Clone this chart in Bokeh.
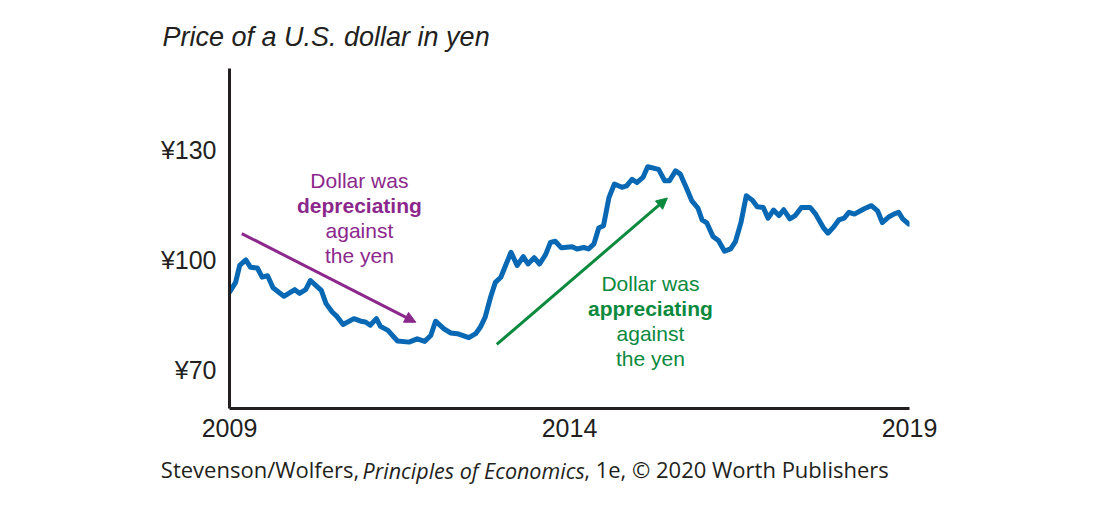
from bokeh.plotting import figure
from bokeh.models import Range1d, FixedTicker, Label, Arrow, NormalHead, Title, LinearAxis
from bokeh.embed import file_html
from bokeh.resources import INLINE

# ---- data ----
years = [2009.00, 2009.09, 2009.15, 2009.24, 2009.31, 2009.41, 2009.48, 2009.56, 2009.64, 2009.80,
         2009.96, 2010.03, 2010.12, 2010.19, 2010.35, 2010.42, 2010.51, 2010.58, 2010.67, 2010.83,
         2010.93, 2011.00, 2011.07, 2011.16, 2011.22, 2011.33, 2011.47, 2011.64, 2011.76, 2011.87,
         2011.96, 2012.03, 2012.15, 2012.25, 2012.35, 2012.52, 2012.62, 2012.69, 2012.76, 2012.84,
         2012.91, 2012.99, 2013.06, 2013.14, 2013.23, 2013.32, 2013.39, 2013.48, 2013.56, 2013.65,
         2013.72, 2013.79, 2013.88, 2014.04, 2014.11, 2014.21, 2014.28, 2014.36, 2014.43, 2014.50,
         2014.58, 2014.66, 2014.77, 2014.84, 2014.92, 2014.99, 2015.08, 2015.15, 2015.31, 2015.40,
         2015.47, 2015.56, 2015.63, 2015.72, 2015.80, 2015.89, 2015.95, 2016.02, 2016.11, 2016.19,
         2016.28, 2016.37, 2016.44, 2016.52, 2016.60, 2016.69, 2016.76, 2016.85, 2016.92, 2017.00,
         2017.08, 2017.15, 2017.24, 2017.32, 2017.41, 2017.54, 2017.62, 2017.73, 2017.80, 2017.89,
         2017.96, 2018.04, 2018.11, 2018.19, 2018.28, 2018.35, 2018.44, 2018.53, 2018.60, 2018.70,
         2018.77, 2018.84, 2018.90, 2018.99]
yen = [91.1, 93.8, 98.4, 99.9, 97.9, 97.7, 95.2, 95.6, 92.3, 90.0,
       91.8, 90.8, 91.8, 94.3, 91.6, 88.0, 85.7, 84.5, 82.3, 83.9,
       83.2, 83.0, 82.1, 83.9, 81.8, 80.7, 77.8, 77.5, 78.4, 77.7,
       79.3, 83.2, 81.2, 80.0, 79.8, 78.7, 79.8, 81.6, 84.3, 89.8,
       93.8, 95.2, 98.4, 102.0, 98.4, 100.8, 98.8, 100.5, 98.8, 101.4,
       104.7, 105.0, 103.2, 103.5, 102.9, 103.3, 102.9, 104.3, 108.6, 109.2,
       116.9, 120.6, 119.7, 120.1, 121.9, 121.0, 122.4, 125.3, 124.6, 121.5,
       121.5, 124.2, 123.3, 119.5, 116.0, 114.0, 110.8, 110.0, 106.3, 105.2,
       102.3, 102.9, 104.9, 110.0, 117.4, 116.2, 114.4, 114.2, 111.3, 113.5,
       112.0, 113.6, 111.1, 112.0, 114.2, 114.2, 112.4, 108.8, 107.2, 109.0,
       110.8, 111.3, 112.9, 112.4, 113.3, 114.0, 114.7, 113.3, 110.1, 111.7,
       112.4, 112.9, 111.1, 109.7]

x_ticks = [2009, 2014, 2019]
x_tick_labels = ["2009", "2014", "2019"]
y_ticks = [70, 100, 130]
y_tick_labels = ["¥70", "¥100", "¥130"]

title_text = "Price of a U.S. dollar in yen"
credit_parts = ["Stevenson/Wolfers,", "Principles of Economics", ", 1e, © 2020 Worth Publishers"]
dep_lines = ["Dollar was", "depreciating", "against", "the yen"]
app_lines = ["Dollar was", "appreciating", "against", "the yen"]

# ---- styles ----
BLUE = "#0868B4"
PURPLE = "#8C288C"
GREEN = "#0B8A3E"
INK = "#231F20"
FONT = "Liberation Sans"
CF = "Open Sans"
W, H = 1084, 489
LEFT, RIGHT, TOP, BOTTOM = 229, 909, 68, 408

p = figure(width=W, height=H, output_backend="svg", toolbar_location=None,
           x_range=Range1d(2009, 2019), y_range=Range1d(59.4, 152.1),
           min_border_left=LEFT, min_border_right=W - RIGHT,
           min_border_top=TOP, min_border_bottom=H - BOTTOM)
p.outline_line_color = None
p.grid.visible = False
p.title = Title(text=title_text, align="left", offset=162 - LEFT, standoff=33,
                text_font=FONT, text_font_size="27px", text_font_style="italic",
                text_color=INK)

for ax in (p.xaxis[0], p.yaxis[0]):
    ax.axis_line_color = INK
    ax.axis_line_width = 3
    ax.major_tick_line_color = None
    ax.minor_tick_line_color = None
    ax.major_label_text_font = FONT
    ax.major_label_text_font_size = "25px"
    ax.major_label_text_color = INK

p.xaxis.ticker = FixedTicker(ticks=x_ticks)
p.xaxis.major_label_overrides = dict(zip(x_ticks, x_tick_labels))
p.xaxis.major_label_standoff = 4
p.yaxis.ticker = FixedTicker(ticks=y_ticks)
p.yaxis.major_label_overrides = dict(zip(y_ticks, y_tick_labels))
p.yaxis.major_label_standoff = 7

p.line(years, yen, line_color=BLUE, line_width=5, line_join="round", line_cap="round")

p.add_layout(Arrow(x_start=2009.18, y_start=107.1, x_end=2011.74, y_end=82.9,
                   line_color=PURPLE, line_width=3,
                   end=NormalHead(size=11, fill_color=PURPLE, line_color=PURPLE)))
p.add_layout(Arrow(x_start=2012.93, y_start=76.9, x_end=2015.44, y_end=116.8,
                   line_color=GREEN, line_width=3,
                   end=NormalHead(size=11, fill_color=GREEN, line_color=GREEN)))

dep_y = [121.5, 114.7, 107.9, 101.1]
app_y = [93.5, 86.6, 79.8, 73.0]
for i, (txt, yy) in enumerate(zip(dep_lines, dep_y)):
    p.add_layout(Label(x=2010.91, y=yy, text=txt, text_align="center", text_baseline="middle",
                       text_font=FONT, text_font_size="21px", text_color=PURPLE,
                       text_font_style="bold" if i == 1 else "normal"))
for i, (txt, yy) in enumerate(zip(app_lines, app_y)):
    p.add_layout(Label(x=2015.19, y=yy, text=txt, text_align="center", text_baseline="middle",
                       text_font=FONT, text_font_size="21px", text_color=GREEN,
                       text_font_style="bold" if i == 1 else "normal"))

# credit line: drawn as two extra, line-less axes below the chart (one upright, one italic)
credit_x = [2009.449, 2012.59, 2016.456]   # centres of the three pieces, in x-axis units


def credit_axis(ticks, labels, style, size, standoff):
    a = LinearAxis(ticker=FixedTicker(ticks=ticks), major_label_overrides=dict(zip(ticks, labels)))
    a.axis_line_color = None
    a.major_tick_line_color = None
    a.minor_tick_line_color = None
    a.major_tick_out = 0
    a.major_tick_in = 0
    a.major_label_standoff = standoff
    a.major_label_text_font = CF
    a.major_label_text_font_size = size
    a.major_label_text_font_style = style
    a.major_label_text_color = INK
    return a


p.add_layout(credit_axis([credit_x[0], credit_x[2]], [credit_parts[0], credit_parts[2]],
                         "normal", "22px", 14), "below")
p.add_layout(credit_axis([credit_x[1]], [credit_parts[1]], "italic", "21.5px", -31), "below")

open("out.html", "w").write(file_html(p, INLINE))
